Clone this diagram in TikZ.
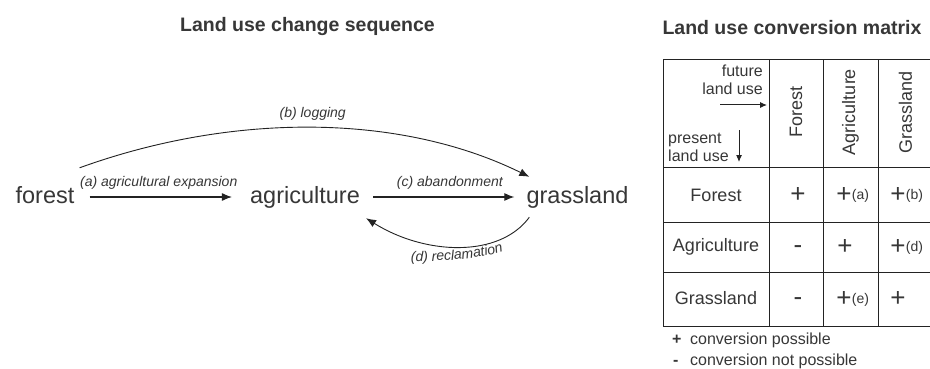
\documentclass[tikz,border=0pt]{standalone}
\usepackage{fontspec}
\setmainfont{Liberation Sans}
\usepackage{tikz}
\definecolor{tinte}{RGB}{55,55,55}
\definecolor{linie}{RGB}{35,35,35}
\usetikzlibrary{arrows.meta, decorations.text}

\begin{document}
\begin{tikzpicture}[x=1pt, y=1pt,
				>={Latex[length=10pt,width=8pt]},   %Pfeilspitzen
				landuse/.style={font=\fontsize{23.5}{28}\selectfont, text=tinte, inner sep=0pt, text height=17pt, text depth=5pt},
				titel/.style={font=\fontsize{19.5}{22}\selectfont\bfseries, text=tinte, inner sep=0pt, anchor=base},
				pfeil/.style={->, draw=linie, line width=1.1pt},
				bogen/.style={->, draw=linie, line width=0.9pt},
				lbl/.style={font=\fontsize{14}{16}\selectfont\itshape, text=tinte, inner sep=2pt},
				tab/.style={draw=linie, line width=1pt},
				kopf/.style={font=\fontsize{18}{20}\selectfont, text=tinte, inner sep=0pt},
				ecke/.style={font=\fontsize{16}{18}\selectfont, text=tinte, inner sep=0pt},
				zeichen/.style={font=\fontsize{26}{28}\selectfont, text=tinte, inner sep=0pt},
				zusatz/.style={font=\fontsize{14}{16}\selectfont, text=tinte, inner sep=0pt, anchor=west},
				legende/.style={font=\fontsize{16}{18}\selectfont, text=tinte, inner sep=0pt, anchor=base west}]
				\useasboundingbox[fill=white] (0,0) rectangle (930,-369);
				% Ueberschriften
				\node[titel] (t1) at (307.5,-32) {Land use change sequence};
				\node[titel] (t2) at (792,-35) {Land use conversion matrix};
				% Landnutzungen
				\node[landuse] (forest) at (45,-197) {forest};
				\node[landuse] (agri) at (305,-197) {agriculture};
				\node[landuse] (grass) at (577.5,-197) {grassland};
				% Uebergaenge
				\draw[pfeil, shorten <=15pt, shorten >=18pt] (forest) -- node[lbl, above=5pt, pos=0.48] (la) {(a) agricultural expansion} (agri);
				\draw[pfeil, shorten <=13pt, shorten >=12pt] (agri) -- node[lbl, above=5pt, pos=0.54] (lc) {(c) abandonment} (grass);
				\draw[bogen] ([shift={(5,18)}]forest.north east) .. controls +(152,55) and +(-130,64) .. node[lbl, above=5pt, pos=0.5] (lb) {(b) logging} ([shift={(3,9)}]grass.north west);
				\draw[bogen] ([shift={(3,-9)}]grass.south west) .. controls +(-30,-41) and +(59,-37) .. ([shift={(6,-10)}]agri.south east);
				\path[decorate, decoration={text along path, text align=center,
					text={|\fontsize{14}{16}\selectfont\itshape\color{tinte}|(d) reclamation}}]
					(404,-261) .. controls (445,-262) and (482,-259) .. (510,-249);
				% Tabelle zeichnen
				\draw[tab] (663,-60) rectangle (933,-326);
				\foreach \y in {167,222,272} \draw[tab] (663,-\y) -- (933,-\y);
				\foreach \x in {769,823,878} \draw[tab] (\x,-60) -- (\x,-326);
				% Kopfzelle
				\node[ecke, align=right, anchor=north east] (zukunft) at (763,-65) {future\\land use};
				\node[ecke, align=left, anchor=north west] (jetzt) at (668,-133) {present\\land use};
				\coordinate (z1) at (720,-105);
				\coordinate (z2) at (767,-105);
				\coordinate (j1) at (739,-130);
				\coordinate (j2) at (739,-162);
				\draw[-{Latex[length=7pt,width=6pt]}, draw=linie, line width=1pt] (z1) -- (z2);
				\draw[-{Latex[length=7pt,width=6pt]}, draw=linie, line width=1pt] (j1) -- (j2);
				% Spalten und Zeilen beschriften
				\node[kopf, rotate=90] (hf) at (796,-112) {Forest};
				\node[kopf, rotate=90] (ha) at (850.5,-112) {Agriculture};
				\node[kopf, rotate=90] (hg) at (905.5,-112) {Grassland};
				\node[kopf] (rf) at (716,-195) {Forest};
				\node[kopf] (ra) at (716,-247) {Agriculture};
				\node[kopf] (rg) at (716,-298.5) {Grassland};
				% Eintraege
				\node[zeichen] (c11) at (798,-195) {+};
				\node[zeichen] (c12) at (844,-195) {+};
				\node[zusatz] (c12s) at ([yshift=-1pt]c12.east) {(a)};
				\node[zeichen] (c13) at (898,-195) {+};
				\node[zusatz] (c13s) at ([yshift=-1pt]c13.east) {(b)};
				\node[zeichen] (c21) at (798,-250) {-};
				\node[zeichen] (c22) at (845,-247) {+};
				\node[zeichen] (c23) at (898,-247) {+};
				\node[zusatz] (c23s) at ([yshift=-1pt]c23.east) {(d)};
				\node[zeichen] (c31) at (798,-301.5) {-};
				\node[zeichen] (c32) at (844,-298.5) {+};
				\node[zusatz] (c32s) at ([yshift=-1pt]c32.east) {(e)};
				\node[zeichen] (c33) at (898,-298.5) {+};
				% Legende
				\node[legende, font=\fontsize{16}{18}\selectfont\bfseries] (lp) at (672,-344) {+};
				\node[legende] (lpt) at (690,-344) {conversion possible};
				\node[legende, font=\fontsize{16}{18}\selectfont\bfseries] (lm) at (673,-365) {-};
				\node[legende] (lmt) at (690,-365) {conversion not possible};
			\end{tikzpicture}
\end{document}
